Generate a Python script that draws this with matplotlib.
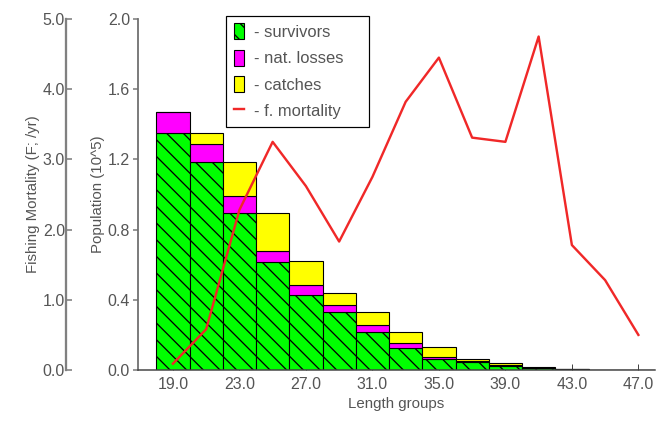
import matplotlib
matplotlib.use("Agg")
import matplotlib.pyplot as plt
import numpy as np
from matplotlib.patches import Patch, Rectangle
from matplotlib.lines import Line2D

# ---- data ----
groups = [19, 21, 23, 25, 27, 29, 31, 33, 35, 37, 39, 41, 43, 45, 47]
survivors = [1.353, 1.185, 0.895, 0.615, 0.430, 0.333, 0.219, 0.128, 0.063, 0.044, 0.025, 0.010, 0.004, 0.0015, 0.0005]
nat_losses = [0.117, 0.101, 0.095, 0.065, 0.052, 0.036, 0.038, 0.026, 0.009, 0.007, 0.004, 0.002, 0.001, 0.0005, 0.0]
catches = [0.0, 0.067, 0.195, 0.215, 0.138, 0.069, 0.076, 0.061, 0.061, 0.012, 0.009, 0.003, 0.001, 0.0005, 0.0]
f_mortality = [0.09, 0.58, 2.28, 3.25, 2.62, 1.83, 2.75, 3.82, 4.45, 3.31, 3.25, 4.75, 1.78, 1.28, 0.50]
xtick_vals = [19, 23, 27, 31, 35, 39, 43, 47]
pop_ticks = [0.0, 0.4, 0.8, 1.2, 1.6, 2.0]
f_ticks = [0.0, 1.0, 2.0, 3.0, 4.0, 5.0]

DPI = 100
def pt(px):
    return px * 72.0 / DPI

plt.rcParams['font.family'] = ['Liberation Sans', 'DejaVu Sans']
plt.rcParams['hatch.linewidth'] = pt(1.3)
plt.rcParams['hatch.color'] = 'black'
TXT = '#555555'
FS_TICK = pt(16)
FS_LAB = pt(15)
FS_LEG = pt(16.5)

fig = plt.figure(figsize=(663 / DPI, 426 / DPI), dpi=DPI)
W, H = 663.0, 426.0
ax = fig.add_axes([138 / W, 56 / H, 517 / W, 351 / H])

s = np.array(survivors)
n = np.array(nat_losses)
c = np.array(catches)
ax.bar(groups, s, width=2, color='#00ff00', edgecolor='black', hatch='\\\\', linewidth=pt(1.1), zorder=2)
ax.bar(groups, n, width=2, bottom=s, color='#ff00ff', edgecolor='black', linewidth=pt(1.1), zorder=2)
ax.bar(groups, c, width=2, bottom=s + n, color='#ffff00', edgecolor='black', linewidth=pt(1.1), zorder=2)

ax.set_xlim(16.9, 48.0)
ax.set_ylim(0, 2.0)
ax.set_xticks(xtick_vals)
ax.set_xticklabels([f"{v:.1f}" for v in xtick_vals])
ax.set_yticks(pop_ticks)
ax.set_yticklabels([f"{v:.1f}" for v in pop_ticks])
ax.tick_params(axis='x', direction='in', length=pt(6), width=pt(1), colors='#444444',
               labelcolor=TXT, labelsize=FS_TICK, pad=pt(7))
ax.tick_params(axis='y', direction='out', length=pt(5), width=pt(1.5), colors='#777777',
               labelcolor=TXT, labelsize=FS_TICK, pad=pt(3))
for sp in ['top', 'right']:
    ax.spines[sp].set_visible(False)
ax.spines['left'].set_color('#707070')
ax.spines['left'].set_linewidth(pt(1.8))
ax.spines['bottom'].set_color('#444444')
ax.spines['bottom'].set_linewidth(pt(1.5))
ax.set_xlabel('Length groups', fontsize=FS_LAB, color=TXT, labelpad=pt(5))
ax.set_ylabel('Population (10^5)', fontsize=FS_LAB, color=TXT, labelpad=pt(3))

ax2 = ax.twinx()
ax2.plot(groups, f_mortality, color='#f02828', lw=pt(2.4), zorder=3)
ax2.set_ylim(0, 5.0)
ax2.yaxis.tick_left()
ax2.yaxis.set_label_position('left')
for sp in ['top', 'right', 'bottom']:
    ax2.spines[sp].set_visible(False)
ax2.spines['left'].set_visible(True)
ax2.spines['left'].set_position(('outward', pt(72)))
ax2.spines['left'].set_color('#808080')
ax2.spines['left'].set_linewidth(pt(2.3))
ax2.set_yticks(f_ticks)
ax2.set_yticklabels([f"{v:.1f}" for v in f_ticks])
ax2.tick_params(axis='y', direction='in', length=pt(6), width=pt(1.5), colors='#777777',
                labelcolor=TXT, labelsize=FS_TICK, pad=pt(1))
ax2.set_ylabel('Fishing Mortality (F; /yr)', fontsize=FS_LAB, color=TXT, labelpad=pt(3))

# legend box (frame drawn separately to match the wider reference box)
frame = Rectangle((226 / W, 1 - 127 / H), (369 - 226) / W, (127 - 16) / H,
                  transform=fig.transFigure, facecolor='white', edgecolor='black',
                  linewidth=pt(1.2), zorder=9)
fig.add_artist(frame)

handles = [
    Patch(facecolor='#00ff00', edgecolor='black', hatch='\\\\', linewidth=pt(1.1)),
    Patch(facecolor='#ff00ff', edgecolor='black', linewidth=pt(1.1)),
    Patch(facecolor='#ffff00', edgecolor='black', linewidth=pt(1.1)),
    Line2D([], [], color='#f02828', lw=pt(2.4)),
]
labels = ['- survivors', '- nat. losses', '- catches', '- f. mortality']
leg = fig.legend(handles, labels, loc='upper left', bbox_to_anchor=(227 / W, 1 - 16 / H),
                 fontsize=FS_LEG, frameon=False,
                 handlelength=0.6, handleheight=1.1,
                 handletextpad=0.6, labelspacing=0.6, borderpad=0.45, borderaxespad=0)
leg.set_zorder(10)
for t in leg.get_texts():
    t.set_color(TXT)

fig.savefig('out.png', dpi=DPI)
